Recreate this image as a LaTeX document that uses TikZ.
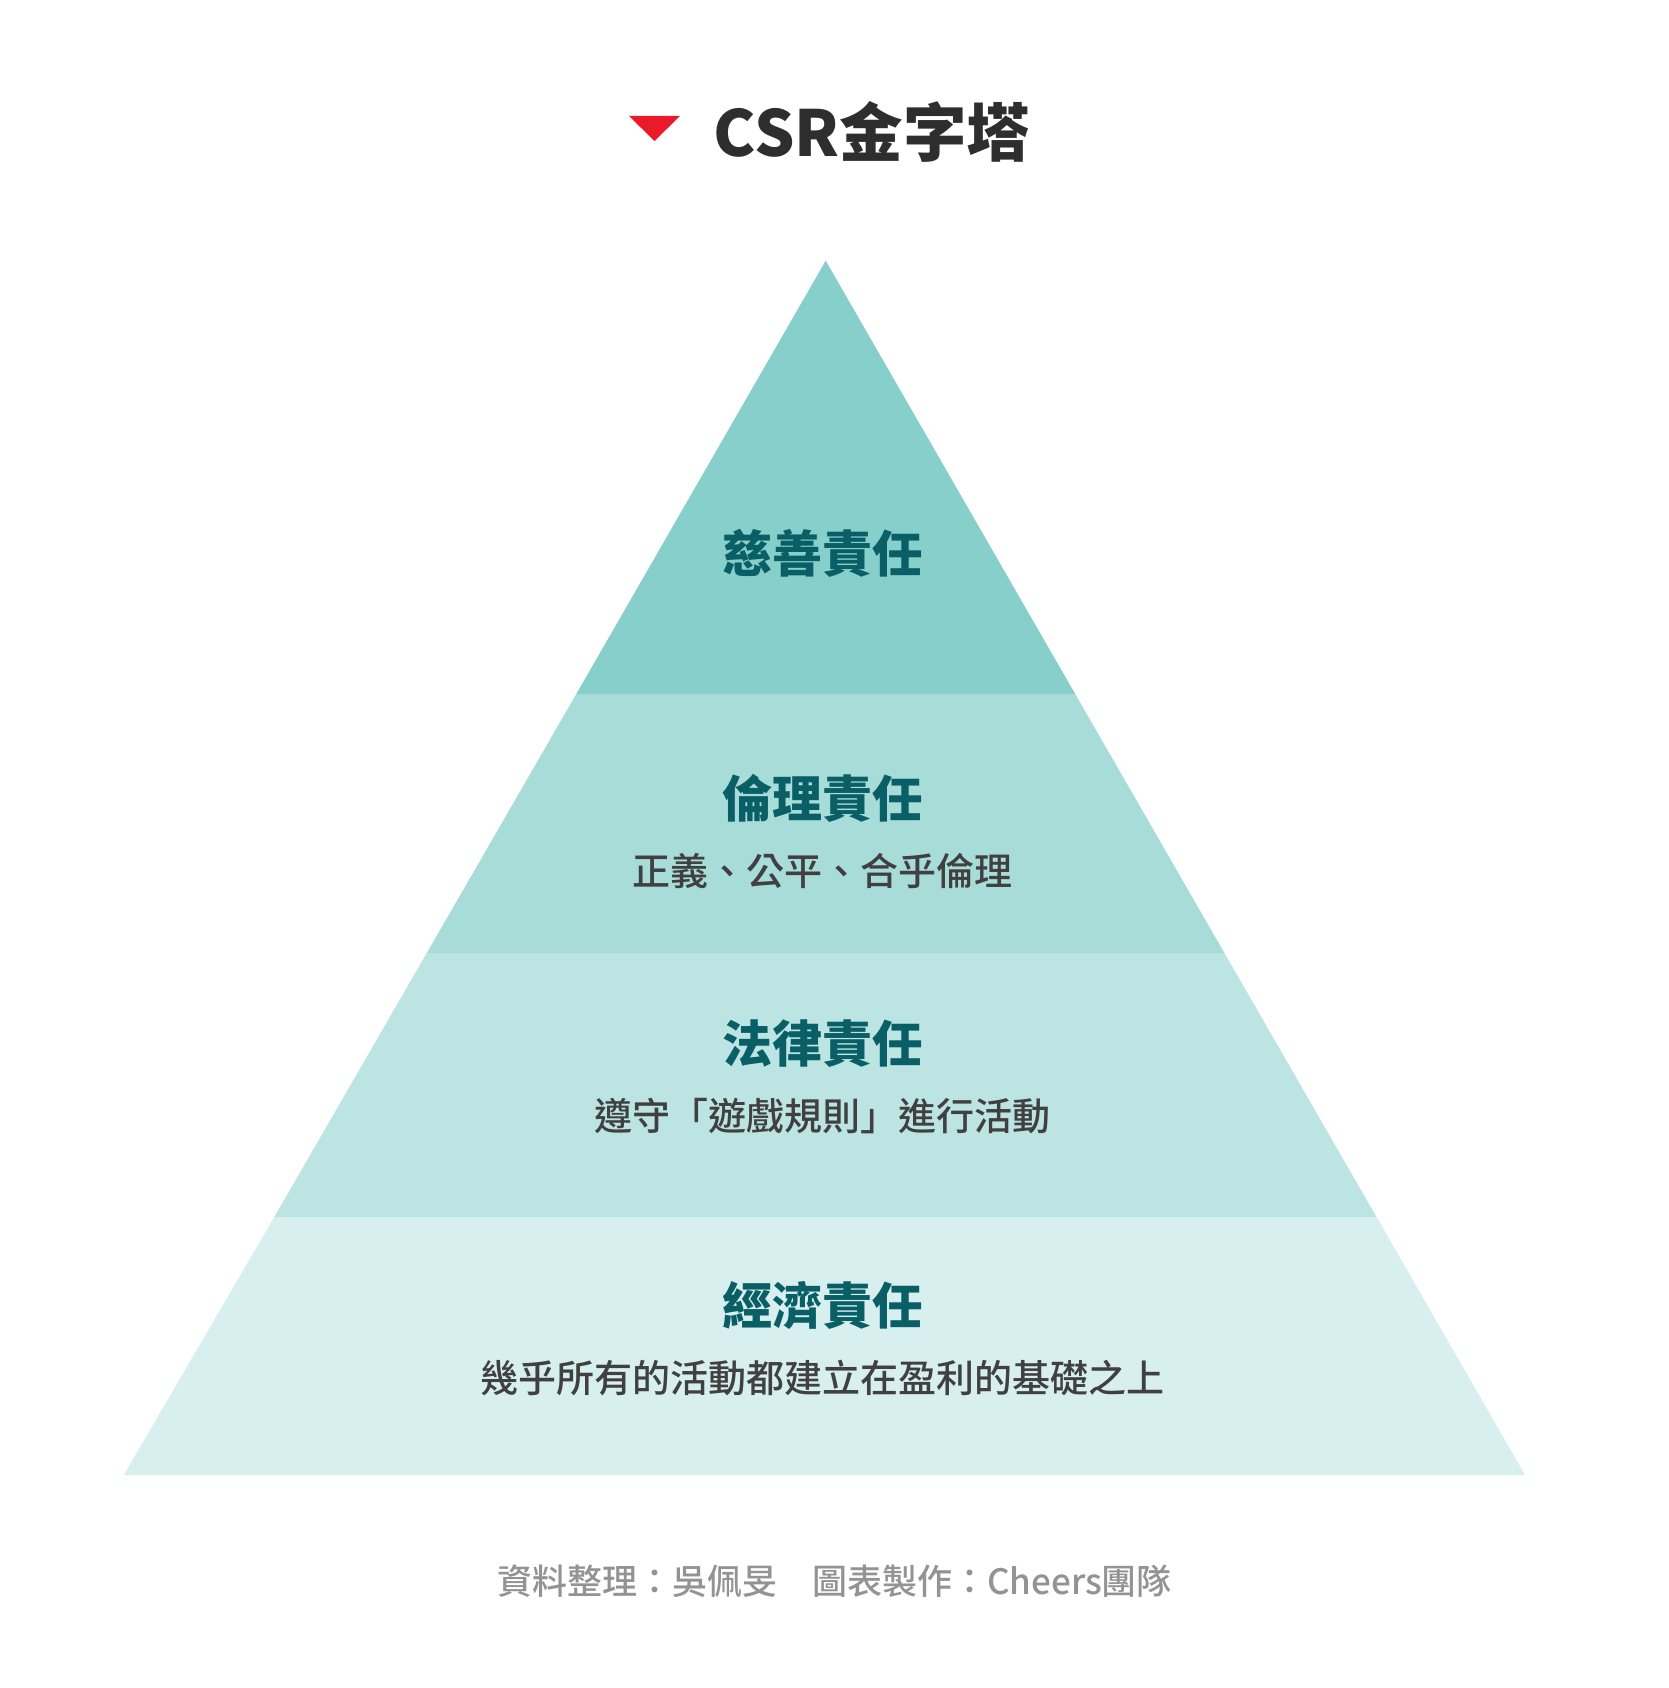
\documentclass[tikz,border=0pt]{standalone}
\usepackage{fontspec}
\setmainfont{Noto Sans CJK TC}
\newfontfamily\medfont{Noto Sans CJK TC Medium}
\definecolor{bandA}{HTML}{86CFCB}
\definecolor{bandB}{HTML}{A7DCD9}
\definecolor{bandC}{HTML}{BBE4E2}
\definecolor{bandD}{HTML}{D7EFEE}
\definecolor{headcol}{HTML}{0A5F66}
\definecolor{subcol}{HTML}{404040}
\definecolor{titlecol}{HTML}{2E2E2E}
\definecolor{footcol}{HTML}{939393}
\definecolor{redtri}{HTML}{EB1A2A}
\tikzset{
  lay/.style={inner sep=0pt,outer sep=0pt,anchor=base},
  headtext/.style={lay,text=headcol,font=\fontsize{50}{50}\selectfont\bfseries},
  subtext/.style={lay,text=subcol,font=\fontsize{38}{38}\selectfont\medfont},
  foottext/.style={lay,text=footcol,font=\fontsize{35}{35}\selectfont\medfont},
  titletext/.style={lay,text=titlecol,font=\fontsize{63.5}{64}\selectfont\bfseries},
}
\begin{document}
\begin{tikzpicture}[x=1pt,y=-1pt]
\useasboundingbox (0,0) rectangle (1668,1688);
\fill[white] (0,0) rectangle (1668,1688);
% pyramid bands
\fill[bandA] (825.7,260.7) -- (1075.2,694) -- (576.3,694) -- cycle;
\fill[bandB] (576.3,694) -- (1075.2,694) -- (1224.4,953) -- (426.8,953) -- cycle;
\fill[bandC] (426.8,953) -- (1224.4,953) -- (1376.5,1217) -- (274.3,1217) -- cycle;
\fill[bandD] (274.3,1217) -- (1376.5,1217) -- (1525,1475) -- (123.8,1475) -- cycle;
% title
\fill[redtri] (629,116) -- (680,116) -- (654.5,141) -- cycle;
\node[titletext] (title) at (872,157) {CSR金字塔};
% labels
\node[headtext] (h1) at (822,572) {慈善責任};
\node[headtext] (h2) at (822,817) {倫理責任};
\node[subtext]  (s2) at (822,885) {正義、公平、合乎倫理};
\node[headtext] (h3) at (822,1062) {法律責任};
\node[subtext]  (s3) at (822,1130) {遵守「遊戲規則」進行活動};
\node[headtext] (h4) at (822,1324) {經濟責任};
\node[subtext]  (s4) at (822,1392) {幾乎所有的活動都建立在盈利的基礎之上};
\node[foottext] (foot) at (834.5,1594) {資料整理：吳佩旻　圖表製作：Cheers團隊};
\end{tikzpicture}
\end{document}
